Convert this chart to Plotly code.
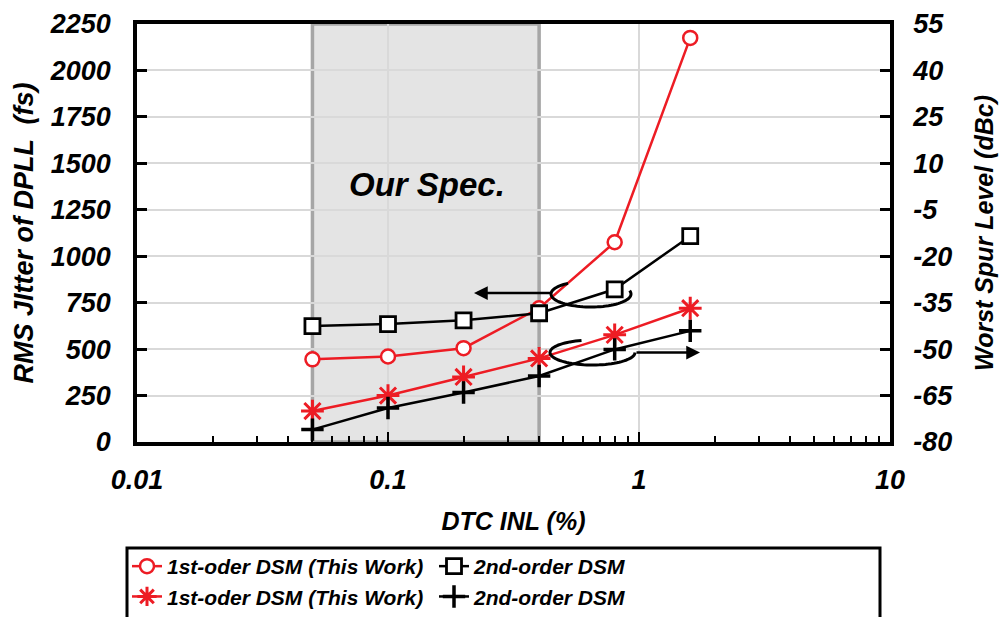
import math
import plotly.graph_objects as go

# ---------------- data ----------------
inl = [0.05, 0.1, 0.2, 0.4, 0.8, 1.6]
jitter_1st = [445, 460, 505, 720, 1075, 2175]
jitter_2nd = [624, 635, 655, 693, 822, 1108]
spur_1st = [-70, -65, -59, -53, -45.4, -36.8]
spur_2nd = [-76, -69, -64, -58.7, -50.1, -44.1]
legend_names = ["1st-oder DSM (This Work)", "2nd-order DSM",
                "1st-oder DSM (This Work)", "2nd-order DSM"]
spec_range = [0.05, 0.4]
x_ticks = [0.01, 0.1, 1, 10]
x_ticktext = ["0.01", "0.1", "1", "10"]
y_ticks = [0, 250, 500, 750, 1000, 1250, 1500, 1750, 2000, 2250]
y2_ticks = [-80, -65, -50, -35, -20, -5, 10, 25, 40, 55]
y2_ticktext = ["-80", "-65", "-50", "-35", "-20", "-5", "10", "25", "40", "55"]

RED = "#ED1C24"
FONT = "Liberation Sans, Arial, sans-serif"

W, H = 1003, 617
L, R, T, B = 137, 113, 24, 175
PW, PH = W - L - R, H - T - B


def px(x):
    return (x - L) / PW


def py(y):
    return (T + PH - y) / PH


fig = go.Figure()

fig.add_trace(go.Scatter(
    x=inl, y=jitter_1st, name=legend_names[0], mode="lines+markers",
    line=dict(color=RED, width=2.5),
    marker=dict(symbol="circle", size=14, color="white", line=dict(color=RED, width=2.5)),
    yaxis="y", legend="legend"))
fig.add_trace(go.Scatter(
    x=inl, y=jitter_2nd, name=legend_names[1], mode="lines+markers",
    line=dict(color="black", width=2.5),
    marker=dict(symbol="square", size=15, color="white", line=dict(color="black", width=2.8)),
    yaxis="y", legend="legend2"))
fig.add_trace(go.Scatter(
    x=inl, y=spur_1st, name=legend_names[2], mode="lines+markers",
    line=dict(color=RED, width=2.5),
    marker=dict(symbol="asterisk-open", size=19, color=RED, line=dict(color=RED, width=3)),
    yaxis="y2", legend="legend"))
fig.add_trace(go.Scatter(
    x=inl, y=spur_2nd, name=legend_names[3], mode="lines+markers",
    line=dict(color="black", width=2.5),
    marker=dict(symbol="cross-thin-open", size=16, color="black", line=dict(color="black", width=3.5)),
    yaxis="y2", legend="legend2"))

shapes = []
# spec region
shapes.append(dict(type="rect", xref="x", yref="paper", x0=spec_range[0], x1=spec_range[1],
                   y0=0, y1=1, fillcolor="#e4e4e4", line=dict(color="#a6a6a6", width=3.5),
                   layer="below"))


def arc(cx, cy, rx, ry, a0, a1, n=60):
    pts = []
    for i in range(n + 1):
        a = math.radians(a0 + (a1 - a0) * i / n)
        xx = cx + rx * math.cos(a)
        yy = cy - ry * math.sin(a)
        pts.append((px(xx), py(yy)))
    return "M " + " L ".join(f"{a:.5f},{b:.5f}" for a, b in pts)


shapes.append(dict(type="path", xref="paper", yref="paper",
                   path=arc(591, 294, 40, 13, 125, 375), line=dict(color="black", width=3)))
shapes.append(dict(type="path", xref="paper", yref="paper",
                   path=arc(592.5, 352.5, 42.5, 12.5, 105, 360), line=dict(color="black", width=3)))
# legend box
shapes.append(dict(type="rect", xref="paper", yref="paper", x0=px(127), x1=px(880),
                   y0=py(660), y1=py(548), line=dict(color="black", width=3),
                   fillcolor="rgba(0,0,0,0)"))

annotations = [
    dict(xref="paper", yref="paper", x=px(427), y=py(184), text="Our Spec.", showarrow=False,
         font=dict(family=FONT, size=33, color="black", weight="bold", style="italic")),
    dict(xref="paper", yref="paper", x=px(474), y=py(293), ax=78, ay=0, text="",
         showarrow=True, arrowhead=2, arrowsize=1.1, arrowwidth=2.5, arrowcolor="black", standoff=0),
    dict(xref="paper", yref="paper", x=px(700), y=py(352.5), ax=-65, ay=0, text="",
         showarrow=True, arrowhead=2, arrowsize=1.1, arrowwidth=2.5, arrowcolor="black", standoff=0),
]

tickfont = dict(family=FONT, size=27, color="black", weight="bold", style="italic")
titlefont = dict(family=FONT, size=25, color="black", weight="bold", style="italic")
legfont = dict(family=FONT, size=21, color="black", weight="bold", style="italic")

fig.update_layout(
    width=W, height=H,
    margin=dict(l=L, r=R, t=T, b=B, autoexpand=False),
    paper_bgcolor="white", plot_bgcolor="white",
    shapes=shapes, annotations=annotations,
    showlegend=True,
    legend=dict(orientation="v", x=px(127), xanchor="left", y=py(546), yanchor="top",
                bgcolor="rgba(0,0,0,0)", borderwidth=0, itemwidth=30, font=legfont),
    legend2=dict(orientation="v", x=px(434), xanchor="left", y=py(546), yanchor="top",
                 bgcolor="rgba(0,0,0,0)", borderwidth=0, itemwidth=30, font=legfont),
    xaxis=dict(type="log", range=[-2, 1], tickvals=x_ticks, ticktext=x_ticktext,
               showgrid=True, gridcolor="#d9d9d9", gridwidth=1.5,
               showline=True, linecolor="black", linewidth=3.5, mirror=True,
               ticks="inside", ticklen=10, tickwidth=2, tickcolor="black",
               tickfont=tickfont, ticklabelstandoff=11, automargin=False,
               minor=dict(ticks="inside", ticklen=6, tickwidth=1.5, tickcolor="black",
                          dtick="D1", showgrid=False),
               title=dict(text="DTC INL (%)", font=titlefont, standoff=19),
               zeroline=False),
    yaxis=dict(range=[0, 2250], tickvals=y_ticks, showgrid=True, gridcolor="#d9d9d9", gridwidth=1.5,
               showline=True, linecolor="black", linewidth=3.5,
               ticks="inside", ticklen=10, tickwidth=2.5, tickcolor="black",
               tickfont=tickfont, ticklabelstandoff=17, automargin=False,
               title=dict(text="RMS JItter of DPLL \u00a0(fs)",
                          font=dict(family=FONT, size=27, color="black", weight="bold", style="italic"),
                          standoff=9),
               zeroline=False),
    yaxis2=dict(range=[-80, 55], tickvals=y2_ticks, ticktext=y2_ticktext,
                overlaying="y", side="right", showgrid=False,
                showline=True, linecolor="black", linewidth=3.5,
                ticks="inside", ticklen=10, tickwidth=2.5, tickcolor="black",
                tickfont=tickfont, ticklabelstandoff=14, automargin=False,
                title=dict(text="Worst Spur Level (dBc)", font=titlefont, standoff=24),
                zeroline=False),
)

fig.write_html("out.html", config={"displayModeBar": False},
               post_script="document.body.style.margin='0px';document.body.style.overflow='hidden';")
